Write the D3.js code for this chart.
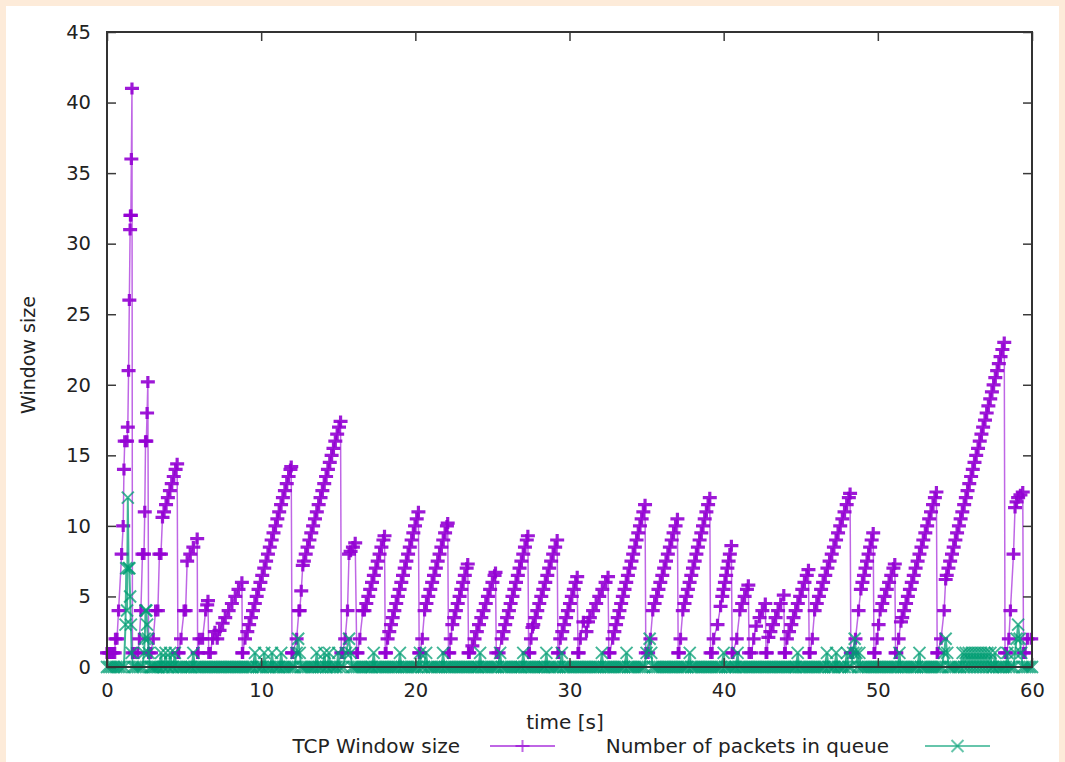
<!DOCTYPE html>
<meta charset="utf-8">
<style>
body {
  margin: 0;
  background: #fdebd9;
  font-family: "DejaVu Sans";
}
text {
  font-size: 20px;
  fill: #222;
}
</style>
<body>
<script src="https://cdn.jsdelivr.net/npm/d3@7"></script>
<script>

var width = 1065,
    height = 762;

var margin = {left: 107, right: 33, top: 32, bottom: 95};

// [time (s), congestion window]
var tcpWindow = [
  [0,1],[0.1,1],[0.2,1],[0.3,1],[0.4,1],[0.5,1],[0.55,2],[0.65,2],[0.75,4],[0.95,8],[1.05,10],[1.1,14],[1.15,16],[1.3,16],
  [1.35,17],[1.4,21],[1.45,26],[1.5,31],[1.52,32],[1.55,32],[1.58,36],[1.62,41],[1.65,1],
  [1.8,1],[2.0,1],[2.1,2],[2.2,4],[2.3,8],[2.4,8],[2.45,11],[2.5,16],[2.55,16],[2.6,18],[2.65,20.2],[2.7,1],
  [2.85,1],[3.0,2],[3.15,4],[3.3,4],[3.4,8],[3.5,8],
  [3.6,10.6],[3.7,11],[3.83,11.5],[3.95,12],[4.08,12.5],[4.2,13],[4.33,13.5],[4.45,14],[4.55,14.4],[4.6,1],
  [4.65,1],[4.8,2],[5.0,4],[5.1,4],[5.2,7.5],[5.4,8],[5.6,8.5],[5.85,9.1],[5.88,1],
  [5.9,1],[6.0,2],[6.2,2],[6.4,4],[6.5,4.4],[6.55,4.7],[6.6,1],
  [6.7,1],[6.85,2],[7.0,2.5],[7.15,2],[7.3,2.6],
  [7.5,3.1],[7.67,3.5],[7.89,4],[8.1,4.5],[8.32,5],[8.53,5.5],[8.75,6],[8.78,1],
  [8.8,1],[8.95,2],[9.1,2.5],[9.22,3],[9.34,3.5],[9.47,4],[9.59,4.5],[9.71,5],[9.83,5.5],[9.95,6],[10.07,6.5],
  [10.2,7],[10.32,7.5],[10.44,8],[10.56,8.5],[10.68,9],[10.8,9.5],[10.93,10],[11.05,10.5],[11.17,11],[11.29,11.5],
  [11.41,12],[11.54,12.5],[11.66,13],[11.78,13.5],[11.9,14],[11.95,14.2],[12.0,1],
  [12.05,1],[12.3,2],[12.45,4],[12.5,4],[12.6,5.4],[12.7,7.2],[12.77,7.5],[12.89,8],[13.01,8.5],[13.13,9],[13.25,9.5],
  [13.37,10],[13.49,10.5],[13.61,11],[13.73,11.5],[13.85,12],[13.97,12.5],[14.09,13],[14.21,13.5],[14.33,14],
  [14.45,14.5],[14.57,15],[14.69,15.5],[14.81,16],[14.93,16.5],[15.05,17],[15.15,17.4],[15.2,1],
  [15.3,1],[15.45,2],[15.6,4],[15.7,8],[15.8,8.2],[15.95,8.5],[16.1,8.8],[16.2,1],
  [16.25,1],[16.4,2],[16.6,4],[16.7,4],[16.82,4.5],[16.95,5],[17.07,5.5],[17.19,6],[17.31,6.5],[17.44,7],
  [17.56,7.5],[17.68,8],[17.8,8.5],[17.93,9],[18.0,9.3],[18.05,1],
  [18.1,1],[18.2,2],[18.31,2.5],[18.42,3],[18.53,3.5],[18.64,4],[18.76,4.5],[18.87,5],[18.98,5.5],[19.09,6],
  [19.2,6.5],[19.31,7],[19.42,7.5],[19.53,8],[19.64,8.5],[19.76,9],[19.87,9.5],[19.98,10],[20.09,10.5],[20.2,11],[20.25,1],
  [20.3,1],[20.45,2],[20.6,4],[20.72,4.5],[20.84,5],[20.97,5.5],[21.09,6],[21.21,6.5],[21.33,7],[21.45,7.5],
  [21.57,8],[21.69,8.5],[21.81,9],[21.93,9.5],[22.05,10],[22.1,10.2],[22.15,1],
  [22.2,1],[22.3,2],[22.4,3],[22.52,3.5],[22.63,4],[22.75,4.5],[22.87,5],[22.98,5.5],[23.1,6],[23.21,6.5],
  [23.33,7],[23.4,7.3],[23.45,1],
  [23.5,1],[23.7,1.5],[23.84,2],[23.99,2.5],[24.13,3],[24.28,3.5],[24.42,4],[24.57,4.5],[24.71,5],[24.85,5.5],
  [25.0,6],[25.14,6.5],[25.2,6.7],[25.25,1],
  [25.4,1],[25.6,2],[25.72,2.5],[25.83,3],[25.95,3.5],[26.07,4],[26.18,4.5],[26.3,5],[26.42,5.5],[26.53,6],
  [26.65,6.5],[26.76,7],[26.88,7.5],[27.0,8],[27.11,8.5],[27.23,9],[27.3,9.3],[27.35,1],
  [27.4,1],[27.5,2],[27.6,2.8],[27.65,3],[27.78,3.5],[27.91,4],[28.04,4.5],[28.17,5],[28.3,5.5],[28.43,6],
  [28.56,6.5],[28.68,7],[28.81,7.5],[28.94,8],[29.07,8.5],[29.2,9],[29.25,1],
  [29.3,1],[29.4,2],[29.53,2.5],[29.65,3],[29.78,3.5],[29.9,4],[30.03,4.5],[30.15,5],[30.28,5.5],[30.4,6],
  [30.5,6.4],[30.55,1],
  [30.6,1],[30.7,2],[30.9,3.2],[31.1,2.5],[31.2,3.2],[31.32,3.5],[31.53,4],[31.73,4.5],[31.93,5],[32.13,5.5],
  [32.34,6],[32.5,6.4],[32.55,1],
  [32.6,1],[32.8,2],[32.91,2.5],[33.02,3],[33.13,3.5],[33.24,4],[33.35,4.5],[33.46,5],[33.57,5.5],[33.68,6],
  [33.79,6.5],[33.9,7],[34.02,7.5],[34.13,8],[34.24,8.5],[34.35,9],[34.46,9.5],[34.57,10],[34.68,10.5],
  [34.79,11],[34.9,11.5],[34.95,1],
  [35.1,1],[35.25,2],[35.4,4],[35.52,4.5],[35.65,5],[35.77,5.5],[35.89,6],[36.02,6.5],[36.14,7],[36.26,7.5],
  [36.38,8],[36.51,8.5],[36.63,9],[36.75,9.5],[36.88,10],[37.0,10.5],[37.05,1],
  [37.1,1],[37.2,2],[37.35,4],[37.46,4.5],[37.57,5],[37.68,5.5],[37.79,6],[37.9,6.5],[38.01,7],[38.12,7.5],
  [38.23,8],[38.33,8.5],[38.44,9],[38.55,9.5],[38.66,10],[38.77,10.5],[38.88,11],[38.99,11.5],[39.1,12],[39.15,1],
  [39.25,1],[39.35,2],[39.6,3],[39.8,4.3],[39.91,5],[39.99,5.5],[40.08,6],[40.16,6.5],[40.24,7],[40.32,7.5],
  [40.4,8],[40.5,8.6],[40.55,1],
  [40.6,1],[40.85,2],[41.05,4],[41.2,4.5],[41.36,5],[41.51,5.5],[41.6,5.8],[41.65,1],
  [41.8,1],[41.95,2],[42.1,2.9],[42.33,3.5],[42.51,4],[42.7,4.5],[42.75,1],
  [42.8,1],[42.9,2.1],[43.03,2.5],[43.2,3],[43.37,3.5],[43.53,4],[43.7,4.5],[43.9,5.1],[43.95,1],
  [44.0,1],[44.1,2],[44.24,2.5],[44.39,3],[44.53,3.5],[44.67,4],[44.81,4.5],[44.96,5],[45.1,5.5],[45.24,6],
  [45.39,6.5],[45.5,6.9],[45.55,1],
  [45.6,1],[45.75,2],[45.9,4],[46.04,4.5],[46.18,5],[46.32,5.5],[46.45,6],[46.59,6.5],[46.73,7],[46.87,7.5],
  [47.01,8],[47.15,8.5],[47.29,9],[47.42,9.5],[47.56,10],[47.7,10.5],[47.84,11],[47.98,11.5],[48.12,12],
  [48.2,12.3],[48.25,1],
  [48.35,1],[48.55,2],[48.75,4],[48.9,5.5],[49.0,6],[49.1,6.5],[49.2,7],[49.3,7.5],[49.4,8],[49.5,8.5],
  [49.6,9],[49.7,9.5],[49.75,1],
  [49.8,1],[49.95,2],[50.05,3],[50.15,4],[50.29,4.5],[50.44,5],[50.58,5.5],[50.73,6],[50.87,6.5],[51.01,7],
  [51.1,7.3],[51.15,1],
  [51.2,1],[51.35,2],[51.5,3.2],[51.58,3.5],[51.7,4],[51.83,4.5],[51.95,5],[52.08,5.5],[52.2,6],[52.33,6.5],
  [52.45,7],[52.58,7.5],[52.7,8],[52.83,8.5],[52.95,9],[53.08,9.5],[53.2,10],[53.33,10.5],[53.45,11],
  [53.58,11.5],[53.7,12],[53.8,12.4],[53.85,1],
  [53.9,1],[54.1,2],[54.3,4],[54.4,6.2],[54.47,6.5],[54.58,7],[54.69,7.5],[54.81,8],[54.92,8.5],[55.03,9],
  [55.14,9.5],[55.26,10],[55.37,10.5],[55.48,11],[55.6,11.5],[55.71,12],[55.82,12.5],[55.93,13],[56.05,13.5],
  [56.16,14],[56.27,14.5],[56.38,15],[56.5,15.5],[56.61,16],[56.72,16.5],[56.83,17],[56.95,17.5],[57.06,18],
  [57.17,18.5],[57.29,19],[57.4,19.5],[57.51,20],[57.62,20.5],[57.74,21],[57.85,21.5],[57.96,22],[58.08,22.5],
  [58.2,23],[58.25,1],
  [58.35,1],[58.5,2],[58.6,4],[58.8,8],[58.9,11.3],[59.0,11.7],[59.1,12],[59.25,12.2],[59.4,12.4],[59.45,1],
  [59.55,1],[59.7,2],[59.95,2]
];

// [time (s), packets in queue]
var queueLength = [
  [0,0],[0.15,0],[0.3,0],[0.45,0],[0.6,0],[0.75,0],[0.9,0],[1.1,0],[1.2,3],[1.25,7],[1.3,4],[1.35,12],[1.4,7],
  [1.45,7],[1.5,5],[1.55,3],[1.6,1],[1.7,0],[1.85,0],[2.0,0],[2.15,0],[2.3,0],[2.4,1],[2.45,2],[2.5,4],[2.55,4],
  [2.6,3],[2.65,2],[2.7,1],[2.8,0],[2.9,0],[3.0,0],[3.1,0],[3.2,0],[3.3,0],[3.4,0],[3.5,1],[3.6,0],[3.7,0],
  [3.8,1],[3.9,0],[4.0,0],[4.1,1],[4.2,0],[4.3,0],[4.4,1],[4.5,0],[4.65,0],[4.8,0],[4.95,0],[5.1,0],[5.25,0],
  [5.4,0],[5.5,0],[5.6,1],[5.7,0],[5.85,0],[6.0,0],[6.15,0],[6.3,0],[6.45,0],[6.6,0],[6.75,0],[6.9,0],[7.05,0],
  [7.2,0],[7.35,0],[7.5,0],[7.65,0],[7.8,0],[7.95,0],[8.1,0],[8.25,0],[8.4,0],[8.55,0],[8.7,0],[8.85,0],[9.0,0],
  [9.15,0],[9.3,0],[9.45,0],[9.6,1],[9.7,0],[9.85,0],[10.0,0],[10.1,0],[10.2,1],[10.3,0],[10.45,0],[10.6,0],
  [10.7,1],[10.8,0],[10.95,0],[11.1,0],[11.2,0],[11.3,1],[11.4,0],[11.55,0],[11.7,0],[11.85,0],[12.0,0],[12.15,0],
  [12.3,1],[12.4,2],[12.5,1],[12.6,0],[12.75,0],[12.9,0],[13.05,0],[13.2,0],[13.35,0],[13.5,0],[13.6,1],[13.7,0],
  [13.85,0],[14.0,0],[14.1,1],[14.2,0],[14.3,0],[14.4,1],[14.5,0],[14.65,0],[14.8,0],[14.9,0],[15.0,1],[15.1,0],
  [15.3,0],[15.5,1],[15.7,2],[15.8,1],[15.9,0],[16.05,0],[16.2,0],[16.35,0],[16.5,0],[16.65,0],[16.8,0],[16.95,0],
  [17.1,0],[17.2,0],[17.3,1],[17.4,0],[17.55,0],[17.7,0],[17.85,0],[18.0,0],[18.15,0],[18.3,0],[18.45,0],[18.6,0],
  [18.75,0],[18.9,0],[19.0,1],[19.1,0],[19.25,0],[19.4,0],[19.55,0],[19.7,0],[19.85,0],[20.0,0],[20.15,0],[20.3,1],
  [20.4,0],[20.55,0],[20.7,1],[20.8,0],[20.95,0],[21.1,0],[21.25,0],[21.4,0],[21.55,0],[21.7,0],[21.8,1],[21.9,0],
  [22.05,0],[22.2,0],[22.35,0],[22.5,0],[22.65,0],[22.8,0],[22.95,0],[23.1,0],[23.25,0],[23.4,0],[23.55,0],[23.7,0],
  [23.85,0],[24.0,0],[24.1,0],[24.2,1],[24.3,0],[24.45,0],[24.6,0],[24.75,0],[24.9,0],[25.05,0],[25.2,0],[25.35,0],
  [25.5,1],[25.6,0],[25.75,0],[25.9,0],[26.05,0],[26.2,0],[26.35,0],[26.5,0],[26.65,0],[26.8,0],[26.9,0],[27.0,1],
  [27.1,0],[27.25,0],[27.4,0],[27.55,0],[27.7,0],[27.85,0],[28.0,0],[28.15,0],[28.3,0],[28.4,0],[28.5,1],[28.6,0],
  [28.75,0],[28.9,0],[29.05,0],[29.2,0],[29.35,0],[29.5,1],[29.6,0],[29.75,0],[29.9,0],[30.05,0],[30.2,0],[30.35,0],
  [30.5,0],[30.65,0],[30.8,0],[30.95,0],[31.1,0],[31.25,0],[31.4,0],[31.55,0],[31.7,0],[31.85,0],[32.0,0],[32.1,1],
  [32.2,0],[32.35,0],[32.5,0],[32.65,0],[32.8,0],[32.95,0],[33.1,0],[33.25,0],[33.4,0],[33.55,0],[33.7,1],[33.8,0],
  [33.95,0],[34.1,0],[34.25,0],[34.4,0],[34.55,0],[34.7,0],[34.85,0],[35.0,1],[35.2,2],[35.3,1],[35.4,0],[35.55,0],
  [35.7,0],[35.85,0],[36.0,0],[36.15,0],[36.3,0],[36.45,0],[36.6,0],[36.75,0],[36.9,0],[37.05,0],[37.2,0],[37.35,0],
  [37.5,0],[37.65,0],[37.8,1],[37.9,0],[38.05,0],[38.2,0],[38.35,0],[38.5,0],[38.65,0],[38.8,0],[38.95,0],[39.1,0],
  [39.25,0],[39.4,0],[39.55,0],[39.7,0],[39.85,0],[40.0,1],[40.1,0],[40.25,0],[40.4,0],[40.55,0],[40.7,0],[40.8,0],
  [40.9,1],[41.0,0],[41.15,0],[41.3,0],[41.45,0],[41.6,0],[41.75,0],[41.9,0],[42.05,0],[42.2,0],[42.35,0],[42.5,0],
  [42.65,0],[42.8,0],[42.95,0],[43.1,0],[43.25,0],[43.4,0],[43.55,0],[43.7,0],[43.85,0],[44.0,0],[44.15,0],[44.3,0],
  [44.45,0],[44.6,0],[44.7,0],[44.8,1],[44.9,0],[45.05,0],[45.2,0],[45.35,0],[45.5,0],[45.65,0],[45.8,0],[45.95,0],
  [46.1,0],[46.25,0],[46.4,0],[46.55,0],[46.7,1],[46.8,0],[46.95,0],[47.1,0],[47.2,0],[47.3,1],[47.4,0],[47.55,0],
  [47.7,0],[47.85,0],[48.0,1],[48.1,0],[48.25,0],[48.4,1],[48.5,2],[48.6,1],[48.7,0],[48.8,1],[48.9,0],[49.05,0],
  [49.2,0],[49.35,0],[49.5,0],[49.65,0],[49.8,0],[49.95,0],[50.1,0],[50.25,0],[50.4,0],[50.55,0],[50.7,0],[50.85,0],
  [51.0,0],[51.15,0],[51.3,0],[51.4,1],[51.5,0],[51.65,0],[51.8,0],[51.95,0],[52.1,0],[52.25,0],[52.4,0],[52.55,0],
  [52.7,1],[52.8,0],[52.95,0],[53.1,0],[53.25,0],[53.4,0],[53.55,0],[53.7,0],[53.85,0],[54.0,0],[54.15,0],[54.3,1],
  [54.4,2],[54.5,1],[54.6,0],[54.75,0],[54.9,0],[55.05,0],[55.2,0],[55.35,0],[55.5,1],[55.6,0],[55.7,1],[55.8,0],
  [55.9,1],[56.0,0],[56.1,1],[56.2,0],[56.3,1],[56.4,0],[56.5,1],[56.6,0],[56.7,1],[56.8,0],[56.9,1],[57.0,0],
  [57.1,1],[57.2,0],[57.3,1],[57.4,0],[57.5,0],[57.6,1],[57.7,0],[57.85,0],[58.0,0],[58.15,0],[58.3,0],[58.4,1],
  [58.5,0],[58.65,0],[58.8,0],[58.9,1],[59.0,2],[59.1,3],[59.2,2],[59.3,1],[59.4,0],[59.55,0],[59.7,0],[59.85,0],
  [60.0,0]
];

var xTicks = [0, 10, 20, 30, 40, 50, 60],
    yTicks = [0, 5, 10, 15, 20, 25, 30, 35, 40, 45];

var seriesNames = ["TCP Window size", "Number of packets in queue"],
    seriesColors = ["#9400d3", "#009e73"];

var svg = d3.select("body").append("svg")
    .attr("width", width)
    .attr("height", height);

svg.append("rect")
    .attr("x", 6)
    .attr("y", 6)
    .attr("width", width - 12)
    .attr("height", height - 6)
    .attr("fill", "white");

var x = d3.scaleLinear()
    .domain([0, 60])
    .range([margin.left, width - margin.right]);

var y = d3.scaleLinear()
    .domain([0, 45])
    .range([height - margin.bottom, margin.top]);

var plus = "M-7,0H7M0,-6V6",
    cross = "M-6,-6L6,6M-6,6L6,-6";

var line = d3.line()
    .x(function(d) { return x(d[0]); })
    .y(function(d) { return y(d[1]); });

// series 1: tcp window
var gTcp = svg.append("g")
    .attr("stroke", seriesColors[0])
    .attr("fill", "none");

gTcp.append("path")
    .attr("d", line(tcpWindow))
    .attr("stroke-opacity", 0.6)
    .attr("stroke-width", 1.5);

gTcp.selectAll(".pt")
    .data(tcpWindow)
  .enter().append("path")
    .attr("class", "pt")
    .attr("d", plus)
    .attr("stroke-opacity", 0.9)
    .attr("stroke-width", 3.2)
    .attr("transform", function(d) { return "translate(" + x(d[0]) + "," + y(d[1]) + ")"; });

// series 2: queue
var gQueue = svg.append("g")
    .attr("stroke", seriesColors[1])
    .attr("fill", "none");

gQueue.append("path")
    .attr("d", line(queueLength))
    .attr("stroke-opacity", 0.75)
    .attr("stroke-width", 2);

gQueue.selectAll(".pt")
    .data(queueLength)
  .enter().append("path")
    .attr("class", "pt")
    .attr("d", cross)
    .attr("stroke-opacity", 0.75)
    .attr("stroke-width", 2)
    .attr("transform", function(d) { return "translate(" + x(d[0]) + "," + y(d[1]) + ")"; });

// axes, ticks drawn inward and mirrored
var x0 = margin.left, x1 = width - margin.right,
    y0 = height - margin.bottom, y1 = margin.top;

svg.append("g")
    .attr("transform", "translate(0," + y0 + ")")
    .call(d3.axisBottom(x).tickValues(xTicks).tickSize(-9).tickPadding(16))
    .call(function(g) { g.select(".domain").remove(); });

svg.append("g")
    .attr("transform", "translate(0," + y1 + ")")
    .call(d3.axisTop(x).tickValues(xTicks).tickSize(-9).tickFormat(""))
    .call(function(g) { g.select(".domain").remove(); });

svg.append("g")
    .attr("transform", "translate(" + x0 + ",0)")
    .call(d3.axisLeft(y).tickValues(yTicks).tickSize(-9).tickPadding(16))
    .call(function(g) { g.select(".domain").remove(); });

svg.append("g")
    .attr("transform", "translate(" + x1 + ",0)")
    .call(d3.axisRight(y).tickValues(yTicks).tickSize(-9).tickFormat(""))
    .call(function(g) { g.select(".domain").remove(); });

svg.selectAll(".tick line")
    .attr("stroke", "#3a3a3a")
    .attr("stroke-width", 1.5);

svg.selectAll(".tick text")
    .style("font-family", "DejaVu Sans")
    .style("font-size", "19.5px")
    .attr("fill", "#222");

svg.append("rect")
    .attr("x", x0)
    .attr("y", y1)
    .attr("width", x1 - x0)
    .attr("height", y0 - y1)
    .attr("fill", "none")
    .attr("stroke", "#333")
    .attr("stroke-width", 2);

svg.append("text")
    .attr("x", 565)
    .attr("y", 729)
    .attr("text-anchor", "middle")
    .text("time [s]");

svg.append("text")
    .attr("transform", "translate(35,355) rotate(-90)")
    .attr("text-anchor", "middle")
    .style("font-size", "19px")
    .text("Window size");

// key below the plot
var legend = [
  {text: 460, x0: 490, x1: 555, mark: plus},
  {text: 889, x0: 925, x1: 990, mark: cross}
];

legend.forEach(function(d, i) {
  svg.append("text")
      .attr("x", d.text)
      .attr("y", 753)
      .attr("text-anchor", "end")
      .text(seriesNames[i]);

  svg.append("line")
      .attr("x1", d.x0)
      .attr("x2", d.x1)
      .attr("y1", 746)
      .attr("y2", 746)
      .attr("stroke", seriesColors[i])
      .attr("stroke-opacity", 0.6)
      .attr("stroke-width", 2);

  svg.append("path")
      .attr("d", d.mark)
      .attr("transform", "translate(" + (d.x0 + d.x1) / 2 + ",746)")
      .attr("stroke", seriesColors[i])
      .attr("stroke-opacity", 0.6)
      .attr("fill", "none")
      .attr("stroke-width", 2);
});

</script>
